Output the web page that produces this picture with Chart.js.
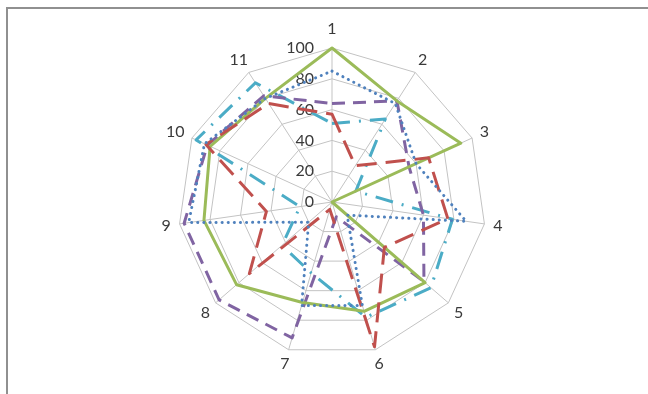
<!DOCTYPE html>
<html>
<head>
<meta charset="utf-8">
<script src="https://cdn.jsdelivr.net/npm/chart.js@4/dist/chart.umd.min.js"></script>
<style>
  html, body { margin: 0; padding: 0; background: #fff; }
  #wrap { position: relative; width: 648px; height: 394px; overflow: hidden; }
  #frame {
    position: absolute; left: 6px; top: 7px; right: -4px; bottom: -4px;
    border-top: 2px solid #909090; border-left: 2px solid #909090;
  }
  #chart { position: absolute; left: 0; top: 0; }
</style>
</head>
<body>
<div id="wrap">
  <div id="frame"></div>
  <canvas id="chart" width="648" height="394"></canvas>
</div>
<script>
// ---------- DATA ----------
const categories = ["1", "2", "3", "4", "5", "6", "7", "8", "9", "10", "11"];
const tickValues = [0, 20, 40, 60, 80, 100];

const blueValues   = [85, 76, 60, 88, 13, 70, 70, 20, 94, 91, 80];
const redValues    = [57, 28, 69, 76, 45, 98, 5, 71, 43, 90, 76];
const greenValues  = [100, 78, 92, 0, 80, 74, 68, 82, 84, 87, 80];
const purpleValues = [64, 78, 55, 60, 79, 10, 92, 97, 97, 89, 82];
const cyanValues   = [51, 64, 17, 79, 85, 78, 48, 43, 21, 97, 92];

const labelFont = "16px Lato";
const textColor = "#3a3a3a";

function series(values, color, dash, cap) {
  return {
    data: values,
    borderColor: color,
    backgroundColor: "transparent",
    borderWidth: 3,
    borderDash: dash,
    borderCapStyle: cap,
    borderJoinStyle: "round",
    fill: false,
    pointRadius: 0,
    pointHoverRadius: 0,
    tension: 0
  };
}

// tick labels on the left of the vertical spoke, and category labels round the outside
const axisText = {
  id: "axisText",
  beforeDatasetsDraw(chart) {
    const s = chart.scales.r;
    const ctx = chart.ctx;
    ctx.save();
    ctx.font = labelFont;
    ctx.fillStyle = textColor;
    ctx.textAlign = "right";
    ctx.textBaseline = "middle";
    tickValues.forEach(v => {
      const d = s.getDistanceFromCenterForValue(v);
      ctx.fillText(String(v), s.xCenter - 18, s.yCenter - d);
    });
    ctx.restore();
  },
  afterDraw(chart) {
    const s = chart.scales.r;
    const ctx = chart.ctx;
    ctx.save();
    ctx.font = labelFont;
    ctx.fillStyle = textColor;
    ctx.textAlign = "center";
    ctx.textBaseline = "middle";
    categories.forEach((c, i) => {
      const a = s.getIndexAngle(i);
      const dx = Math.sin(a), dy = -Math.cos(a);
      const p = s.getPointPosition(i, s.drawingArea + 9);
      const w = ctx.measureText(c).width;
      ctx.fillText(c, p.x + dx * w / 2, p.y + dy * 6 + (dy < -0.9 ? -4 : 0));
    });
    ctx.restore();
  }
};

new Chart(document.getElementById("chart"), {
  type: "radar",
  data: {
    labels: categories,
    datasets: [
      series(blueValues, "#4f81bd", [0.1, 6], "round"),
      series(redValues, "#c0504d", [20, 9], "butt"),
      series(greenValues, "#9bbb59", [], "butt"),
      series(purpleValues, "#8064a2", [13, 8], "butt"),
      series(cyanValues, "#4bacc6", [18, 9, 2, 9], "butt")
    ]
  },
  options: {
    responsive: false,
    animation: false,
    layout: { padding: { left: 16, right: 0, top: 48, bottom: 38 } },
    plugins: { legend: { display: false }, tooltip: { enabled: false } },
    scales: {
      r: {
        min: tickValues[0],
        max: tickValues[tickValues.length - 1],
        ticks: { stepSize: 20, display: false },
        grid: { color: "#c3c3c3", lineWidth: 1 },
        angleLines: { color: "#c3c3c3", lineWidth: 1 },
        pointLabels: { display: false }
      }
    }
  },
  plugins: [axisText]
});
</script>
</body>
</html>
